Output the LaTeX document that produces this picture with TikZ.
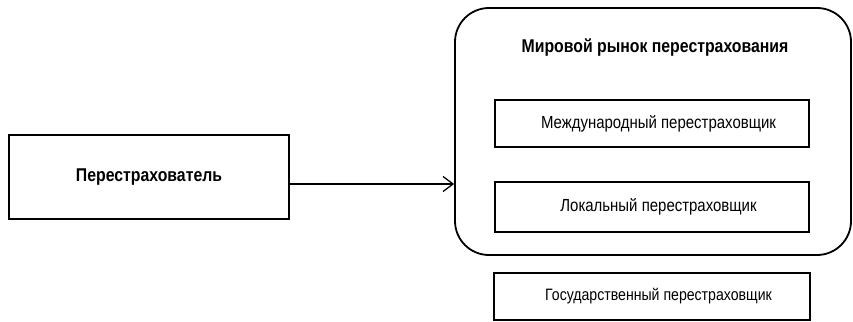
\documentclass[tikz,border=0pt]{standalone}
\usepackage{fontspec}
\setmainfont{Liberation Sans}[FakeStretch=0.855]
\usetikzlibrary{arrows.meta}

\begin{document}
\begin{tikzpicture}[
  x=1pt, y=-1pt,
  block/.style={draw, rectangle, line width=1.1pt, inner sep=0pt, font=\fontsize{17.5}{21}\selectfont,
    execute at begin node=\hspace*{13pt}},
  market/.style={draw, rectangle, rounded corners=34pt, line width=1.8pt, inner sep=0pt},
  title/.style={font=\fontsize{18.5}{22}\selectfont\bfseries},
  arrow/.style={-{Straight Barb[length=10pt, width=15pt, line width=1.3pt]}, line width=1.3pt}
]
\useasboundingbox (0,0) rectangle (853,321);
\node[draw, rectangle, line width=1.1pt, minimum width=280pt, minimum height=84pt, title] (insurer) at (149,177) {Перестрахователь};
\node[market, minimum width=396pt, minimum height=247pt] (market) at (653,131.5) {};
\node[title] (mtitle) at (655,48) {Мировой рынок перестрахования};
\node[block, minimum width=314pt, minimum height=47pt] (intl) at (652,123.5) {Международный перестраховщик};
\node[block, minimum width=314pt, minimum height=50pt] (local) at (652,207) {Локальный перестраховщик};
\node[block, minimum width=316pt, minimum height=47pt, font=\fontsize{16.5}{20}\selectfont] (state) at (652,296.5) {Государственный перестраховщик};
\draw[arrow] ([yshift=-7pt]insurer.east) -- ([yshift=-7pt]insurer.east -| market.west);
\end{tikzpicture}
\end{document}
